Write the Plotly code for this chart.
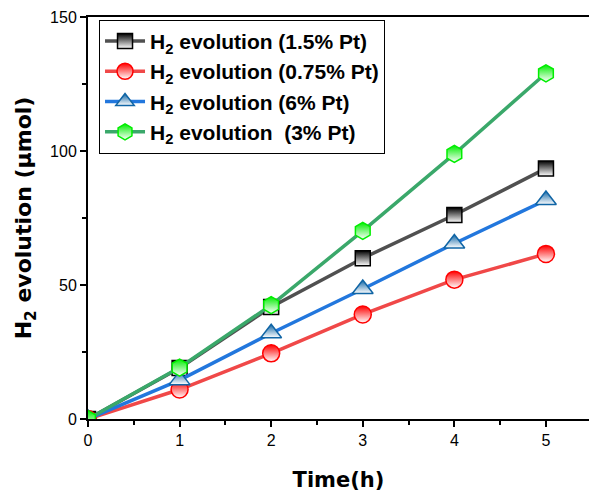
import plotly.graph_objects as go

time_h = [0, 1, 2, 3, 4, 5]
h2_1p5 = [0, 19.0, 41.8, 60.0, 76.1, 93.5]
h2_0p75 = [0, 11.0, 24.5, 39.0, 52.0, 61.6]
h2_6 = [0, 14.5, 32.0, 48.5, 65.5, 81.7]
h2_3 = [0, 19.2, 42.5, 70.2, 98.9, 129.0]

names = ["H<sub>2</sub> evolution (1.5% Pt)",
         "H<sub>2</sub> evolution (0.75% Pt)",
         "H<sub>2</sub> evolution (6% Pt)",
         "H<sub>2</sub> evolution  (3% Pt)"]

series = [
    (h2_1p5, "#505050", "#000000", "square", 15),
    (h2_0p75, "#f04848", "#ff0000", "circle", 17),
    (h2_6, "#2277dd", "#1065a5", "triangle-up", 18),
    (h2_3, "#3aa86a", "#00ee00", "hexagon", 17),
]

fig = go.Figure()
for (vals, lc, mc, sym, sz), nm in zip(series, names):
    fig.add_trace(go.Scatter(
        x=time_h, y=vals, name=nm, mode="lines+markers",
        line=dict(color=lc, width=3.5),
        marker=dict(symbol=sym, size=sz, color=mc,
                    gradient=dict(type="vertical", color="white"),
                    line=dict(color=mc, width=1.5)),
    ))

fig.update_layout(
    width=589, height=497,
    margin=dict(l=88, r=0, t=17, b=78),
    plot_bgcolor="white", paper_bgcolor="white",
    font=dict(family="Liberation Sans, Arial", color="black"),
    showlegend=True,
    legend=dict(x=0.022, y=0.993, xanchor="left", yanchor="top",
                bordercolor="black", borderwidth=1, bgcolor="white",
                font=dict(size=21, family="Liberation Sans, Arial", weight="bold"),
                itemwidth=40, tracegroupgap=0),
)
fig.update_xaxes(
    range=[0, 5.47], showgrid=False, zeroline=False,
    showline=True, linecolor="black", linewidth=2, mirror=True,
    ticks="outside", ticklen=6, tickwidth=2, tickcolor="black",
    tickvals=[0, 1, 2, 3, 4, 5],
    minor=dict(ticks="outside", ticklen=4, tickwidth=2, tickcolor="black", dtick=0.5, tick0=0),
    tickfont=dict(size=16, family="Liberation Sans, Arial"),
    title=dict(text="<b>Time(h)</b>", font=dict(size=21, family="DejaVu Sans"), standoff=24),
)
fig.update_yaxes(
    range=[0, 150], showgrid=False, zeroline=False,
    showline=True, linecolor="black", linewidth=2,
    ticks="outside", ticklen=6, tickwidth=2, tickcolor="black",
    tickvals=[0, 50, 100, 150],
    minor=dict(ticks="outside", ticklen=4, tickwidth=2, tickcolor="black", dtick=25, tick0=0),
    tickfont=dict(size=16, family="Liberation Sans, Arial"),
    title=dict(text="<b>H<sub>2</sub> evolution (μmol)</b>", font=dict(size=22, family="DejaVu Sans"), standoff=12),
)

fig.write_html("out.html")
